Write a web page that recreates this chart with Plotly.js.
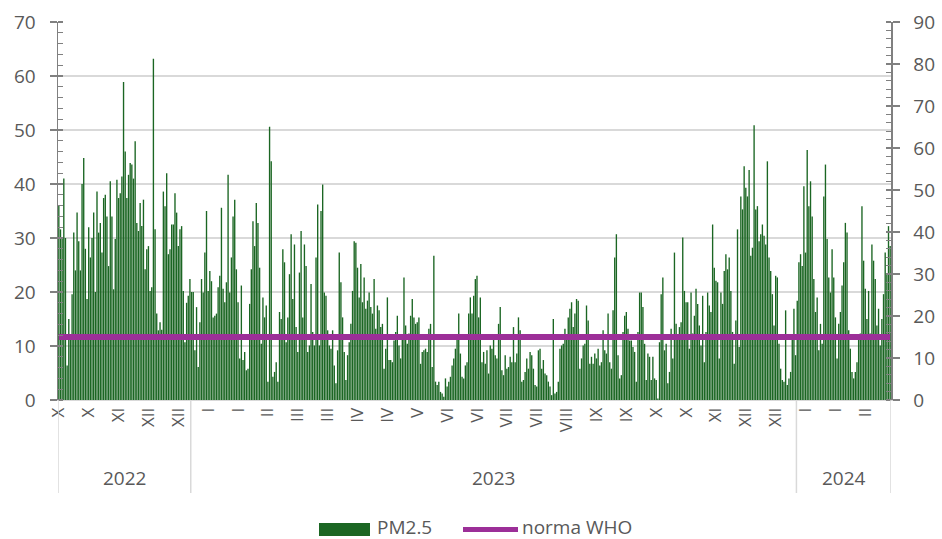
<!DOCTYPE html>
<html><head><meta charset="utf-8">
<script src="https://cdn.plot.ly/plotly-3.0.1.min.js"></script>
<style>html,body{margin:0;padding:0;background:#fff}#chart{width:942px;height:539px}</style>
</head><body><div id="chart"></div>
<script>
// Daily PM2.5 (13 Oct 2022 – 26 Feb 2024)
const pm2022 = [36,31.6,30,41,30,6.4,15,12,19.6,31,24,
34.7,29.4,24,40,44.8,28,18.7,32,26.4,30,
34.7,20,38.6,31,32.8,27.3,37.4,38,34,24.8,
40.5,34,20.5,29.8,40.8,37.4,38.3,41.4,58.9,46,
37.4,41.7,43.9,43.6,41,47.9,32.8,31.3,36.5,32.2,
37.1,24.2,27.9,28.5,20.2,20.9,63.2,31.6,16,12.9,
14.4,13,38.6,35.9,42,27,27.9,32.5,32.5,38.3,34.7,
28.5,31.6,32.2,20.2,10.7,18,19.3,22.4];

const pm2023 = [20,20,9.2,
17.2,6.1,14.4,22.4,19.9,27.3,35,20.2,23.9,22,
15.3,15.6,16,20.9,23,35.6,20.6,18.1,21.8,41.7,
19.9,26.4,34,37.1,24.2,18.1,7.7,21.2,7.4,
8.9,5.5,5.8,17.8,24.2,33.1,28.5,36.5,32.8,24.5,
10.4,19,15.3,17.5,3.4,50.6,44.2,4.3,5.2,7,
3.4,16.3,15,27.9,25.5,10.7,15.3,23.3,30.7,18.7,
28.8,13.5,8.9,23.6,31.3,15.3,28.8,24.8,8.9,10.1,
21.5,12.6,10.1,26.4,36.2,10.1,35,39.9,19.9,19.3,
12.9,10.1,9.5,12.9,6.4,
3.1,9.2,27.3,21.8,15.3,8.9,3.7,8.3,10.7,14.1,
20.2,29.4,29.1,24.5,19,25.2,18.1,22.7,16.9,18.4,
19.9,17.2,16,22.4,13.2,17.5,16.6,13.5,14.1,5.8,
9.5,19,7.4,7.4,7,11,12.6,15.6,10.1,
7.7,12,22.7,13.8,10.4,12.3,15.6,18.7,15.3,14.1,
14.4,15.3,6.7,8.9,9.2,9.5,8.9,13.2,14.1,6.1,
26.7,3.4,2.8,3.4,1.5,1.2,0.6,4,2.5,3.4,
4.3,6.4,7.7,9.5,11.7,16,8.6,4.3,4,6.4,
7,16,19,16,19.3,
22.4,23,15.3,19,7,8.9,6.7,9.2,4.9,
10.1,9.5,11.7,8.3,7.7,14.1,17.2,5.5,4.6,8.3,
5.8,6.1,8,7,13.5,7,8.6,15.3,12.9,3.4,
3.7,5.2,7.7,5.8,8.9,8.3,5.8,2.8,2.5,9.2,
9.5,5.8,7.4,4.9,4.6,3.4,2.5,0.9,15,1.2,
1.5,3.4,9.5,10.1,10.4,13.2,11.7,15.3,16.9,18.1,
13.5,16,18.7,18.4,5.8,7.7,10.1,10.4,17.5,14.7,
6.7,8,6.7,8.6,7.7,9.5,6.4,7,12.9,9.2,
8.6,16,7,
5.8,16.6,26.4,30.7,8.3,4,4.6,12.6,15.6,16.3,
13.2,11,11,9.8,8.9,3.4,12.6,19.9,19.9,17.2,
10.4,3.7,8.6,8,3.7,8,4,3.7,0.3,10.7,
19.6,22.7,9.2,10.4,3.1,5.2,13.2,7.7,27.3,
14.1,11.7,13.5,14.4,30.1,20.2,18.1,18.1,9.5,19.9,
12.3,15.6,20.6,17.8,13.8,10.1,19.3,7,12.6,19.9,
17.5,16.3,32.5,24.5,22.1,21.8,7.7,19.9,17.8,23.9,
27,24.2,26.4,20.2,12.6,6.7,14.7,31.6,9.8,37.7,
35.3,43.3,39.3,37.7,
42.6,26.7,28.2,50.9,35.3,35.9,29.4,30.7,32.5,30.4,
28.8,44.2,26.4,23.9,19.6,13.8,23,22.7,10.4,5.8,
3.7,3.4,16.6,2.8,4,5.2,12,16.9,8.3];

const pm2024 = [18.4,25.5,27,24.8,39.6,27.3,46.3,35.9,40.5,34,
22.4,16.3,19,9.2,14.1,10.4,37.7,43.6,29.8,22.7,
19.9,27.9,22.7,15.3,7.7,14.1,16.3,21.2,25.5,32.8,
31,12.9,9.5,5.2,4,5.2,7,12,12.3,35.9,
25.8,20.6,15,20.2,12.3,28.8,25.8,22.4,13.8,16.9,
10.1,15,19.6,27.3,23.3,32.2,28.5];

const whoNorm = 15; // µg/m³, right axis
const monthTickLabels = ['X','X','XI','XII','XII','I','I','II','III','III','IV','IV','V','VI','VI',
  'VII','VII','VIII','IX','IX','X','X','XI','XII','XII','I','I','II'];
const years = ['2022','2023','2024'];
const seriesNames = ['PM2.5','norma WHO'];

// ---- build ----
const values = pm2022.concat(pm2023, pm2024);
const N = values.length;
const idx = values.map((_, i) => i);
const tickStep = 18;
const tickvals = monthTickLabels.map((_, k) => k * tickStep);
const yearCounts = [pm2022.length, pm2023.length, pm2024.length];
const bounds = [0];
yearCounts.forEach(c => bounds.push(bounds[bounds.length - 1] + c));

const grey = '#595959';
const axisCol = '#808080';
const font = 'Open Sans, sans-serif';
const green = '#1b6623';
const purple = '#9c2f98';

const traces = [
  {type: 'bar', x: idx, y: values, name: seriesNames[0], marker: {color: green, line: {width: 0}},
   yaxis: 'y', showlegend: false, hoverinfo: 'y'},
  {type: 'scatter', mode: 'lines', x: [idx[0], idx[N - 1]], y: [whoNorm, whoNorm], name: seriesNames[1],
   yaxis: 'y2', line: {color: purple, width: 6}, showlegend: false}
];

const plotW = 942 - 58 - 51, plotH = 539 - 22 - 139;
const shapes = [];
bounds.forEach(b => shapes.push({type: 'line', xref: 'x', yref: 'paper', x0: b - 0.5, x1: b - 0.5,
  y0: 0, y1: -93 / plotH, line: {color: '#d9d9d9', width: 1.5}}));
// legend swatches
const legY = -129.5 / plotH;
shapes.push({type: 'rect', xref: 'paper', yref: 'paper', x0: 261 / plotW, x1: 312 / plotW,
  y0: -123 / plotH, y1: -136 / plotH, fillcolor: green, line: {width: 0}});
shapes.push({type: 'line', xref: 'paper', yref: 'paper', x0: 405 / plotW, x1: 460 / plotW,
  y0: legY, y1: legY, line: {color: purple, width: 5}});

const txtY = -127 / plotH;
const annotations = years.map((yr, i) => ({
  text: yr, xref: 'x', yref: 'paper', x: (bounds[i] + bounds[i + 1] - 1) / 2, y: -78 / plotH,
  showarrow: false, xanchor: 'center', yanchor: 'middle', font: {family: font, size: 19, color: grey}
}));
annotations.push({text: seriesNames[0], xref: 'paper', yref: 'paper', x: 318 / plotW, y: txtY,
  showarrow: false, xanchor: 'left', yanchor: 'middle', borderpad: 0, font: {family: font, size: 19, color: grey}});
annotations.push({text: seriesNames[1], xref: 'paper', yref: 'paper', x: 463 / plotW, y: txtY,
  showarrow: false, xanchor: 'left', yanchor: 'middle', borderpad: 0, font: {family: font, size: 19, color: grey}});

const yCommon = {
  ticks: 'outside', ticklen: 7, tickwidth: 1.5, tickcolor: axisCol,
  showline: true, linecolor: axisCol, linewidth: 1.5, zeroline: false,
  tickfont: {family: font, size: 19, color: grey}, dtick: 10, tick0: 0,
  minor: {ticks: 'inside', dtick: 2, ticklen: 5, tickwidth: 1.2, tickcolor: axisCol, showgrid: false},
  ticklabelstandoff: 10, fixedrange: true
};

const layout = {
  width: 942, height: 539, autosize: false,
  margin: {l: 58, r: 51, t: 22, b: 139, pad: 0},
  paper_bgcolor: '#fff', plot_bgcolor: '#fff',
  bargap: 0.18, showlegend: false,
  font: {family: font, color: grey},
  xaxis: {range: [-0.5, N - 0.5], tickmode: 'array', tickvals: tickvals, ticktext: monthTickLabels,
    tickangle: -90, ticks: '', showgrid: false, zeroline: false, showline: true, linecolor: '#d9d9d9',
    linewidth: 1, tickfont: {family: font, size: 17, color: grey}, fixedrange: true},
  yaxis: Object.assign({}, yCommon, {range: [0, 70], showgrid: true, gridcolor: '#d9d9d9', gridwidth: 1.2}),
  yaxis2: Object.assign({}, yCommon, {range: [0, 90], overlaying: 'y', side: 'right', showgrid: false}),
  shapes: shapes, annotations: annotations
};

Plotly.newPlot('chart', traces, layout, {displayModeBar: false, staticPlot: true});
</script>
</body></html>
